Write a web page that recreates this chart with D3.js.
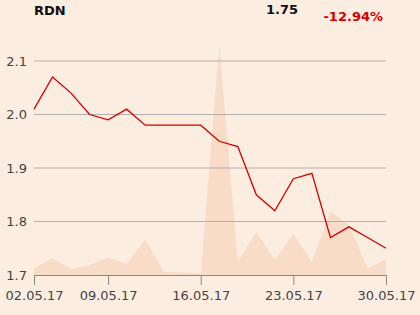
<!DOCTYPE html>
<html>
<head>
<meta charset="utf-8">
<script src="https://cdn.jsdelivr.net/npm/d3@7"></script>
<style>
  body { margin: 0; background: #fcede1; }
  svg { display: block; font-family: "DejaVu Sans", sans-serif; }
</style>
</head>
<body>
<svg id="chart"></svg>
<script>
// Trading days (point scale, holidays skipped)
const dates = ["02.05.17", "04.05.17", "05.05.17", "08.05.17", "09.05.17", "10.05.17", "11.05.17",
    "12.05.17", "15.05.17", "16.05.17", "17.05.17", "18.05.17", "19.05.17", "22.05.17",
    "23.05.17", "24.05.17", "25.05.17", "26.05.17", "29.05.17", "30.05.17"];
const prices = [2.01, 2.07, 2.04, 2.00, 1.99, 2.01, 1.98, 1.98, 1.98, 1.98,
    1.95, 1.94, 1.85, 1.82, 1.88, 1.89, 1.77, 1.79, 1.77, 1.75];
const volumes = [67, 167, 60, 100, 177, 110, 357, 33, 25, 15,
    2303, 133, 433, 150, 410, 133, 633, 500, 67, 157];
const yTicks = [1.7, 1.8, 1.9, 2.0, 2.1];
const xTickLabels = ["02.05.17", "09.05.17", "16.05.17", "23.05.17", "30.05.17"];
const ticker = "RDN";
const lastPrice = "1.75";
const change = "-12.94%";

const width = 420, height = 315;
const margin = { top: 0, right: 34, bottom: 40, left: 34 };
const svg = d3.select("#chart").attr("width", width).attr("height", height);

svg.append("rect").attr("width", width).attr("height", height).attr("fill", "#fcede1");

const x = d3.scalePoint().domain(dates).range([34, 386]);
const y = d3.scaleLinear().domain([1.7, 2.1]).range([275, 61]);
const yVol = d3.scaleLinear().domain([0, d3.max(volumes)]).range([275, 44.7]);

// Volume area
const area = d3.area()
    .x((d, i) => x(dates[i]))
    .y0(275)
    .y1(d => yVol(d));
svg.append("path")
    .datum(volumes)
    .attr("d", area)
    .attr("fill", "#f8dcc8");

// Grid lines
svg.append("g")
    .selectAll("line")
    .data(yTicks.slice(1))
    .join("line")
    .attr("x1", 34)
    .attr("x2", 386)
    .attr("y1", d => y(d))
    .attr("y2", d => y(d))
    .attr("stroke", "#b4b0ad")
    .attr("stroke-width", 1);

// Y labels
svg.append("g")
    .selectAll("text")
    .data(yTicks)
    .join("text")
    .attr("x", 27)
    .attr("y", d => y(d))
    .attr("dy", "0.35em")
    .attr("text-anchor", "end")
    .attr("fill", "#444")
    .attr("font-size", "13px")
    .text(d => d.toFixed(1));

// Bottom axis
const xAxis = d3.axisBottom(x)
    .tickValues(xTickLabels)
    .tickSize(10)
    .tickPadding(6)
    .tickSizeOuter(0);
const gx = svg.append("g")
    .attr("transform", "translate(0,275)")
    .call(xAxis);
gx.select(".domain").attr("stroke", "#888");
gx.selectAll(".tick line").attr("stroke", "#888");
gx.selectAll(".tick text")
    .attr("fill", "#444")
    .attr("font-size", "13px")
    .attr("font-family", "DejaVu Sans, sans-serif");

// Price line
const line = d3.line()
    .x((d, i) => x(dates[i]))
    .y(d => y(d));
svg.append("path")
    .datum(prices)
    .attr("d", line)
    .attr("fill", "none")
    .attr("stroke", "#d40000")
    .attr("stroke-width", 1.3);

// Header
svg.append("text")
    .attr("x", 34)
    .attr("y", 15)
    .attr("font-size", "13px")
    .attr("font-weight", "bold")
    .attr("fill", "#111")
    .text(ticker);
svg.append("text")
    .attr("x", 298)
    .attr("y", 14)
    .attr("text-anchor", "end")
    .attr("font-size", "13px")
    .attr("font-weight", "bold")
    .attr("fill", "#111")
    .text(lastPrice);
svg.append("text")
    .attr("x", 383)
    .attr("y", 21)
    .attr("text-anchor", "end")
    .attr("font-size", "13px")
    .attr("font-weight", "bold")
    .attr("fill", "#d40000")
    .text(change);
</script>
</body>
</html>
